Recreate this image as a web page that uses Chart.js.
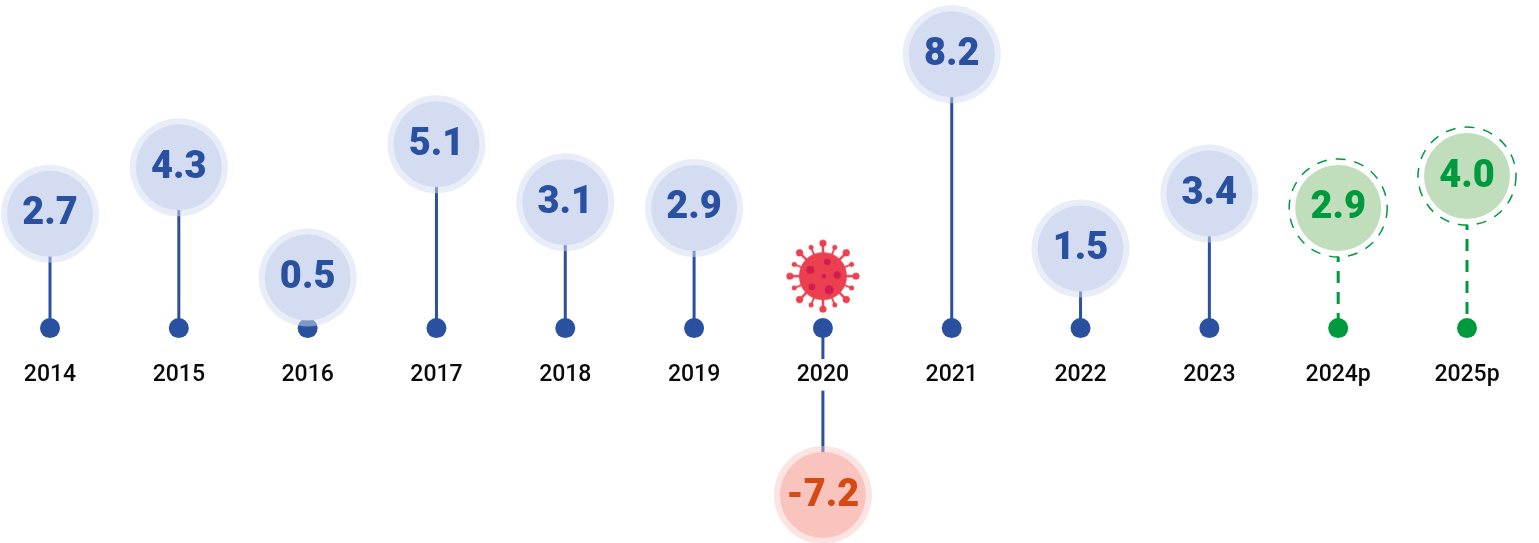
<!DOCTYPE html>
<html><head><meta charset="utf-8">
<style>html,body{margin:0;padding:0;background:#fff}canvas{display:block}</style>
<script src="https://cdn.jsdelivr.net/npm/chart.js@4"></script>
</head><body><canvas id="c" width="1539" height="543"></canvas>
<script>
const years = ['2014','2015','2016','2017','2018','2019','2020','2021','2022','2023','2024p','2025p'];
const growth = [2.7,4.3,0.5,5.1,3.1,2.9,-7.2,8.2,1.5,3.4,2.9,4.0];
const labels = ['2.7','4.3','0.5','5.1','3.1','2.9','-7.2','8.2','1.5','3.4','2.9','4.0'];
const pandemicYear = '2020';
const pandemicIconLevel = 0.55;

const isForecast = y => y.endsWith('p');
const ink = i => growth[i] < 0 ? '#D34A14' : isForecast(years[i]) ? '#009A3E' : '#2A50A0';
const stemInk = i => isForecast(years[i]) ? '#009A3E' : '#2A50A0';
const fill = i => growth[i] < 0 ? '#F9C4BE' : isForecast(years[i]) ? '#C1DEBC' : '#D4DCF2';
const halo = i => growth[i] < 0 ? 'rgba(249,196,190,.45)' : isForecast(years[i]) ? '#ffffff' : 'rgba(212,220,242,.5)';

// The lollipops start a fixed distance from the baseline, and the negative side is compressed.
class OffsetLollipopScale extends Chart.LinearScale {
  static id = 'offsetLollipop';
  static defaults = Chart.LinearScale.defaults;
  getPixelForValue(v) {
    if (v === null || v === undefined) return NaN;
    const t = v > 0 ? v + 1.24 : v < 0 ? v * 0.6275 - 1.24 : 0;
    return super.getPixelForValue(t);
  }
}
Chart.register(OffsetLollipopScale);

function virusIcon() {
  const s = 76, c = document.createElement('canvas'); c.width = c.height = s;
  const g = c.getContext('2d'); g.translate(s/2, s/2);
  const body = '#EC4050', spot = '#D01C4E';
  g.strokeStyle = g.fillStyle = body; g.lineCap = 'round';
  for (let k = 0; k < 16; k++) {
    const a = k * Math.PI / 8, long = k % 2 === 0;
    const r = long ? 33 : 31, br = long ? 3.6 : 2.5;
    g.lineWidth = long ? 2.4 : 1.8;
    g.beginPath(); g.moveTo(0,0); g.lineTo(Math.cos(a)*r, Math.sin(a)*r); g.stroke();
    g.beginPath(); g.arc(Math.cos(a)*r, Math.sin(a)*r, br, 0, 7); g.fill();
  }
  g.beginPath(); g.arc(0,0,24,0,7); g.fill();
  g.fillStyle = spot;
  [[-12.7,-6.3,4],[4.3,-14.3,3.3],[14.3,-1,3.7],[1,0,2.3],[-11,10.7,3.3],[6.3,13.7,4.5]].forEach(p=>{
    g.beginPath(); g.arc(p[0],p[1],p[2],0,7); g.fill();
  });
  return c;
}

const stemSets = years.map((y,i)=>({
  data:[{x:y,y:growth[i]},{x:y,y:0}],
  borderColor:stemInk(i), borderWidth:3, borderDash:isForecast(y)?[12,9]:[],
  pointRadius:0, order:50, clip:false
}));
const points = growth.map((v,i)=>({x:years[i],y:v}));
const dots = {data:years.map(y=>({x:y,y:0})), showLine:false, pointRadius:10, pointBorderWidth:0,
  pointBackgroundColor:years.map((y,i)=>stemInk(i)), order:40, clip:false};
const halos = {data:points, showLine:false, pointRadius:49, pointBorderWidth:0,
  pointBackgroundColor:years.map((y,i)=>halo(i)), order:30, clip:false};
const rings = {data:points.filter(p=>isForecast(p.x)), showLine:false, pointRadius:49,
  pointBackgroundColor:'rgba(0,0,0,0)', pointBorderColor:'#009A3E', pointBorderWidth:1.5,
  ringDash:[10,9], order:25, clip:false};
const discs = {id:'discs', data:points, showLine:false, pointRadius:43, pointBorderWidth:0,
  pointBackgroundColor:years.map((y,i)=>fill(i)), order:20, clip:false};
const icon = {data:[{x:pandemicYear,y:pandemicIconLevel}], showLine:false, pointStyle:virusIcon(), order:10, clip:false};

const extras = {
  id:'extras',
  beforeDatasetDraw(chart,args){
    const d = chart.data.datasets[args.index];
    chart.ctx.save();
    if (d.ringDash) chart.ctx.setLineDash(d.ringDash);
  },
  afterDatasetDraw(chart){ chart.ctx.restore(); },
  afterDatasetsDraw(chart){
    const idx = chart.data.datasets.findIndex(d=>d.id==='discs');
    const meta = chart.getDatasetMeta(idx), g = chart.ctx;
    g.save();
    g.font = '900 38px Roboto, sans-serif';
    g.textAlign='center'; g.textBaseline='middle';
    meta.data.forEach((el,i)=>{ g.fillStyle = ink(i); g.fillText(labels[i], el.x, el.y+1); });
    g.restore();
  }
};

new Chart(document.getElementById('c'),{
  type:'line',
  data:{labels:years, datasets:[...stemSets,dots,halos,rings,discs,icon]},
  plugins:[extras],
  options:{
    responsive:false, animation:false, events:[],
    layout:{autoPadding:false, padding:{left:50,right:72,top:0,bottom:0}},
    plugins:{legend:{display:false},tooltip:{enabled:false}},
    scales:{
      x:{type:'category', offset:false, position:{y:0},
         afterFit(s){ s.height=0; s.paddingLeft=0; s.paddingRight=0; },
         grid:{display:false,drawTicks:false}, border:{display:false},
         ticks:{autoSkip:false,maxRotation:0,minRotation:0,padding:33,z:1,color:'#0a0a0a',
           font:{family:'Roboto',size:23,weight:'500'},
           showLabelBackdrop:true,backdropColor:'#fff',backdropPadding:{x:2,y:2}}},
      y:{type:'offsetLollipop', display:false, min:-7.41, max:11.31}
    }
  }
});
</script></body></html>
